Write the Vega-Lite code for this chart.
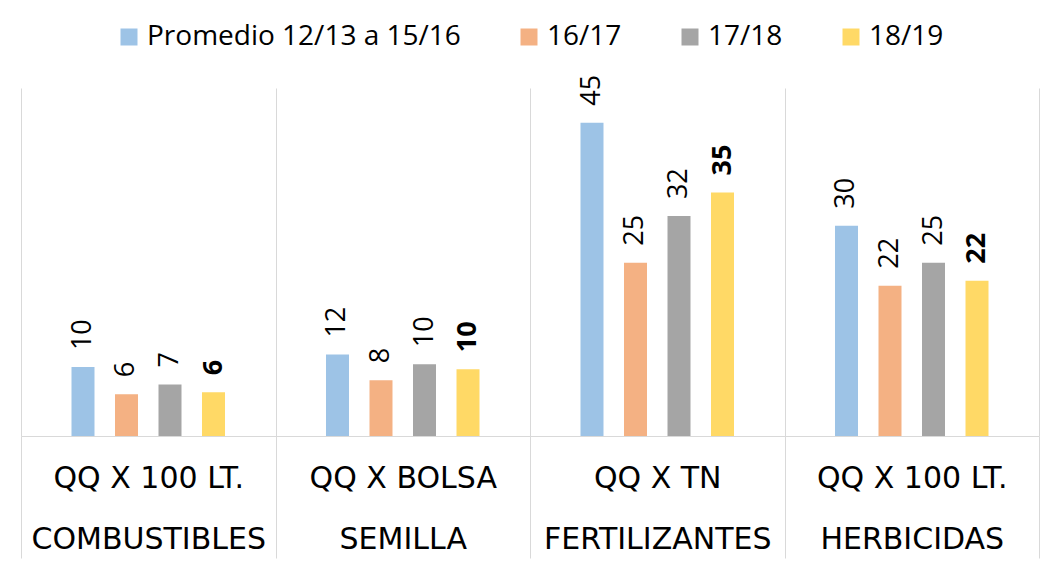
{
  "$schema": "https://vega.github.io/schema/vega-lite/v6.json",
  "autosize": "none",
  "width": 1018,
  "height": 348,
  "padding": {"left": 21, "top": 88, "right": 2, "bottom": 143},
  "background": "white",
  "data": {
    "values": [
      {"categoria": "QQ X 100 LT.\nCOMBUSTIBLES", "serie": "Promedio 12/13 a 15/16", "valor": 9.9},
      {"categoria": "QQ X 100 LT.\nCOMBUSTIBLES", "serie": "16/17", "valor": 6.0},
      {"categoria": "QQ X 100 LT.\nCOMBUSTIBLES", "serie": "17/18", "valor": 7.4},
      {"categoria": "QQ X 100 LT.\nCOMBUSTIBLES", "serie": "18/19", "valor": 6.3},
      {"categoria": "QQ X BOLSA\nSEMILLA", "serie": "Promedio 12/13 a 15/16", "valor": 11.7},
      {"categoria": "QQ X BOLSA\nSEMILLA", "serie": "16/17", "valor": 8.0},
      {"categoria": "QQ X BOLSA\nSEMILLA", "serie": "17/18", "valor": 10.3},
      {"categoria": "QQ X BOLSA\nSEMILLA", "serie": "18/19", "valor": 9.6},
      {"categoria": "QQ X TN\nFERTILIZANTES", "serie": "Promedio 12/13 a 15/16", "valor": 45.0},
      {"categoria": "QQ X TN\nFERTILIZANTES", "serie": "16/17", "valor": 24.9},
      {"categoria": "QQ X TN\nFERTILIZANTES", "serie": "17/18", "valor": 31.6},
      {"categoria": "QQ X TN\nFERTILIZANTES", "serie": "18/19", "valor": 35.0},
      {"categoria": "QQ X 100 LT.\nHERBICIDAS", "serie": "Promedio 12/13 a 15/16", "valor": 30.2},
      {"categoria": "QQ X 100 LT.\nHERBICIDAS", "serie": "16/17", "valor": 21.6},
      {"categoria": "QQ X 100 LT.\nHERBICIDAS", "serie": "17/18", "valor": 24.9},
      {"categoria": "QQ X 100 LT.\nHERBICIDAS", "serie": "18/19", "valor": 22.3}
    ]
  },
  "encoding": {
    "x": {
      "field": "categoria",
      "type": "nominal",
      "sort": null,
      "title": null,
      "scale": {"paddingInner": 0, "paddingOuter": 0},
      "axis": {
        "orient": "bottom",
        "tickBand": "extent",
        "grid": true,
        "gridColor": "#d9d9d9",
        "gridWidth": 1,
        "domainColor": "#d9d9d9",
        "domainWidth": 1,
        "tickColor": "#d9d9d9",
        "tickSize": 122,
        "tickWidth": 1,
        "labelAngle": 0,
        "labelAlign": "center",
        "labelBaseline": "top",
        "labelPadding": -95,
        "labelLineHeight": 61,
        "labelFont": "DejaVu Sans",
        "labelFontSize": 30,
        "labelColor": "#000000",
        "labelLimit": 400,
        "labelExpr": "split(datum.label, '\\n')"
      }
    },
    "xOffset": {
      "field": "serie",
      "type": "nominal",
      "sort": ["Promedio 12/13 a 15/16", "16/17", "17/18", "18/19"],
      "scale": {"paddingInner": 0.15, "paddingOuter": 1}
    },
    "y": {
      "field": "valor",
      "type": "quantitative",
      "scale": {"domain": [0, 50], "nice": false, "zero": true},
      "axis": null
    }
  },
  "layer": [
    {
      "mark": {"type": "bar", "width": 23},
      "encoding": {
        "color": {
          "field": "serie",
          "type": "nominal",
          "sort": ["Promedio 12/13 a 15/16", "16/17", "17/18", "18/19"],
          "scale": {
            "domain": ["Promedio 12/13 a 15/16", "16/17", "17/18", "18/19"],
            "range": ["#9dc3e6", "#f4b183", "#a5a5a5", "#ffd966"]
          },
          "legend": {
            "orient": "none",
            "direction": "horizontal",
            "legendX": 94,
            "legendY": -65,
            "title": null,
            "symbolType": "square",
            "symbolSize": 289,
            "symbolStrokeWidth": 0,
            "labelFont": "Open Sans",
            "labelFontSize": 28,
            "labelColor": "#000000",
            "labelOffset": 4,
            "columnPadding": 54,
            "labelLimit": 500
          }
        }
      }
    },
    {
      "transform": [{"filter": "datum.serie != '18/19'"}],
      "mark": {
        "type": "text",
        "angle": 270,
        "align": "left",
        "baseline": "middle",
        "dx": 17,
        "font": "Open Sans",
        "fontSize": 27,
        "color": "#000000"
      },
      "encoding": {
        "text": {"field": "valor", "type": "quantitative", "format": ".0f"}
      }
    },
    {
      "transform": [{"filter": "datum.serie == '18/19'"}],
      "mark": {
        "type": "text",
        "angle": 270,
        "align": "left",
        "baseline": "middle",
        "dx": 17,
        "font": "Open Sans",
        "fontSize": 27,
        "fontWeight": "bold",
        "color": "#000000"
      },
      "encoding": {
        "text": {"field": "valor", "type": "quantitative", "format": ".0f"}
      }
    }
  ],
  "config": {
    "view": {"stroke": null}
  }
}
